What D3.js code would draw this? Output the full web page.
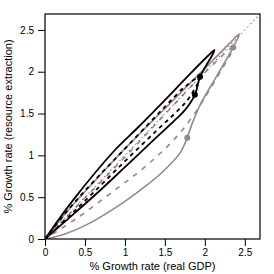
<!DOCTYPE html>
<html>
<head>
<meta charset="utf-8">
<script src="https://cdn.jsdelivr.net/npm/d3@7"></script>
<style>
body { margin: 0; background: #fff; }
text { font-family: 'Liberation Sans', Arial, sans-serif; fill: #000; }
</style>
</head>
<body>
<div id="chart"></div>
<script>
var ticks = [0, 0.5, 1, 1.5, 2, 2.5]
var xTitle = '% Growth rate (real GDP)'
var yTitle = '% Growth rate (resource extraction)'

// loops, from origin out to the tip and back
var blackSolid = [
  [0, 0], [0.05, 0.07], [0.354, 0.468], [0.875, 1.064], [1.15, 1.321], [1.5, 1.661],
  [1.8, 1.96], [2.05, 2.2], [2.12, 2.26], [2.1, 2.21], [2.02, 2.08], [1.94, 1.94],
  [1.875, 1.724], [1.75, 1.54], [1.625, 1.42], [1.4, 1.22], [1.0, 0.86],
  [0.6875, 0.58], [0.3, 0.25], [0, 0]
]
var blackDashed = [
  [0, 0], [0.3, 0.36], [0.6, 0.68], [0.9, 0.98], [1.2, 1.28], [1.5, 1.58],
  [1.75, 1.82], [1.94, 1.94], [1.8125, 1.7], [1.6875, 1.56], [1.4, 1.3],
  [1.0, 0.93], [0.6, 0.55], [0.3, 0.27], [0, 0]
]
var graySolid = [
  [0, 0], [0.25, 0.3], [0.6, 0.67], [0.98, 1.06], [1.5, 1.56], [2.0, 2.04],
  [2.3, 2.33], [2.43, 2.45], [2.354, 2.29], [2.15, 1.95], [1.95, 1.62],
  [1.85, 1.4], [1.78, 1.21]
]
var grayLower = [
  [1.78, 1.21], [1.69, 1.03], [1.48, 0.81], [1.27, 0.64], [1.0, 0.45],
  [0.56, 0.19], [0.25, 0.06], [0, 0]
]
var grayDashed = [
  [0, 0], [0.5, 0.49], [1.0, 0.98], [1.5, 1.49], [2.0, 1.99], [2.354, 2.29],
  [2.1, 1.85], [1.9, 1.54], [1.69, 1.27], [1.46, 1.04], [1.21, 0.83],
  [0.91, 0.61], [0.4, 0.25], [0, 0]
]
var blackPoints = [[1.94, 1.94], [1.875, 1.724]]
var grayPoints = [[2.354, 2.29], [1.78, 1.21]]
var lims = [0, 2.69]

var gray = '#8c8c8c'

var margin = {left: 45, right: 14, top: 14, bottom: 35}
var width = 274 - margin.left - margin.right
var height = 274 - margin.top - margin.bottom

var svg = d3.select('#chart').append('svg')
  .attr('width', 274)
  .attr('height', 274)

var g = svg.append('g')
  .attr('transform', 'translate(' + margin.left + ',' + margin.top + ')')

var x = d3.scaleLinear().domain(lims).range([0, width])
var y = d3.scaleLinear().domain(lims).range([height, 0])

g.append('clipPath').attr('id', 'clip')
  .append('rect')
  .attr('width', width)
  .attr('height', height)

var xAxis = g.append('g')
  .attr('transform', 'translate(0,' + height + ')')
  .call(d3.axisBottom(x).tickValues(ticks).tickFormat(d3.format('')).tickSize(7).tickPadding(3))
var yAxis = g.append('g')
  .call(d3.axisLeft(y).tickValues(ticks).tickFormat(d3.format('')).tickSize(7).tickPadding(4))

;[xAxis, yAxis].forEach(function(a) {
  a.select('.domain').remove()
  a.selectAll('line').attr('stroke', '#000')
  a.selectAll('text').attr('font-size', 10).attr('font-family', 'Liberation Sans, Arial, sans-serif')
})

var plot = g.append('g').attr('clip-path', 'url(#clip)')

var line = d3.line()
  .x(function(d) { return x(d[0]) })
  .y(function(d) { return y(d[1]) })
  .curve(d3.curveCatmullRom.alpha(0.5))

plot.append('path').datum(grayDashed)
  .attr('d', line)
  .attr('fill', 'none')
  .attr('stroke', gray)
  .attr('stroke-width', 1.6)
  .attr('stroke-dasharray', '5,6')

plot.append('path').datum(graySolid)
  .attr('d', line)
  .attr('fill', 'none')
  .attr('stroke', gray)
  .attr('stroke-width', 1.6)

plot.append('path').datum(grayLower)
  .attr('d', line)
  .attr('fill', 'none')
  .attr('stroke', gray)
  .attr('stroke-width', 1.6)

plot.append('path').datum(blackDashed)
  .attr('d', line)
  .attr('fill', 'none')
  .attr('stroke', '#000')
  .attr('stroke-width', 1.8)
  .attr('stroke-dasharray', '4,4')

plot.append('path').datum(blackSolid)
  .attr('d', line)
  .attr('fill', 'none')
  .attr('stroke', '#000')
  .attr('stroke-width', 1.8)

plot.append('line')
  .attr('x1', x(lims[0])).attr('y1', y(lims[0]))
  .attr('x2', x(lims[1])).attr('y2', y(lims[1]))
  .attr('stroke', '#ff0000')
  .attr('stroke-width', 1)
  .attr('stroke-dasharray', '1.5,3')

plot.selectAll('circle.gray').data(grayPoints).enter().append('circle')
  .attr('class', 'gray')
  .attr('cx', function(d) { return x(d[0]) })
  .attr('cy', function(d) { return y(d[1]) })
  .attr('r', 3)
  .attr('fill', gray)

plot.selectAll('circle.black').data(blackPoints).enter().append('circle')
  .attr('class', 'black')
  .attr('cx', function(d) { return x(d[0]) })
  .attr('cy', function(d) { return y(d[1]) })
  .attr('r', 3)
  .attr('fill', '#000')

g.append('rect')
  .attr('width', width)
  .attr('height', height)
  .attr('fill', 'none')
  .attr('stroke', '#000')
  .attr('stroke-width', 1.2)

g.append('text')
  .attr('x', width / 2)
  .attr('y', height + 31)
  .attr('text-anchor', 'middle')
  .attr('font-size', 11)
  .text(xTitle)

g.append('text')
  .attr('transform', 'translate(' + (-33) + ',' + (height / 2) + ') rotate(-90)')
  .attr('text-anchor', 'middle')
  .attr('font-size', 11)
  .text(yTitle)
</script>
</body>
</html>
